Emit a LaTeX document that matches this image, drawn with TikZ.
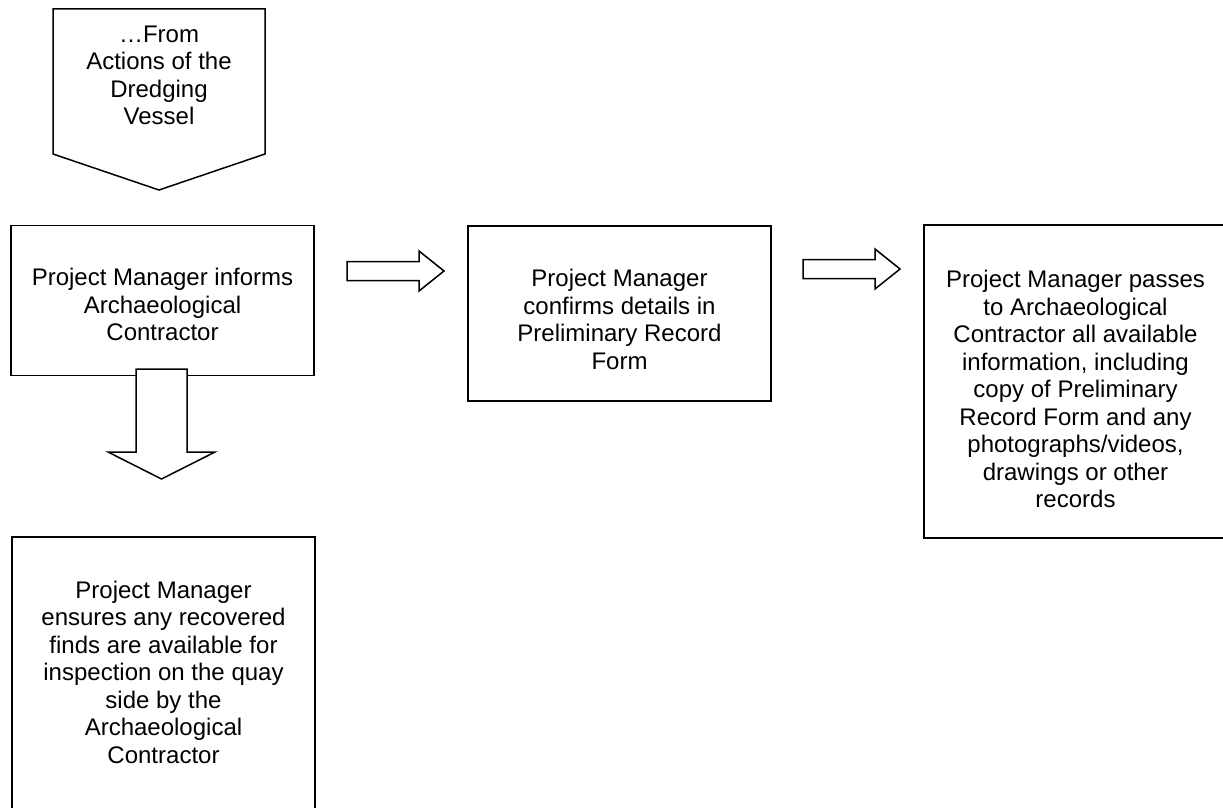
\documentclass[tikz,border=0pt]{standalone}
\usepackage{fontspec}
\setmainfont{Liberation Sans}

\begin{document}
\begin{tikzpicture}[x=1pt, y=-1pt, line width=1.5pt,
    box/.style={draw, minimum width=303pt, inner sep=0pt},
    txt/.style={align=center, inner sep=0pt, font=\fontsize{24}{27.5}\selectfont},
    blockarrow/.style={draw, fill=white},]
    \useasboundingbox (0,0) rectangle (1223,808);
    % off-page connector
    \draw (53,9) -- (265,9) -- (265,154) -- (159,190) -- (53,154) -- cycle;
    \node[txt] (from) at (159,75.5) {…From\\Actions of the\\Dredging\\Vessel};
    \node[box, minimum height=150pt] (inform) at (162.5,300.5) {};
    \node[txt] (informtxt) at ([yshift=-4.2pt]inform.center) {Project Manager informs\\Archaeological\\Contractor};
    \node[box, minimum height=175pt] (confirm) at (619.5,313.5) {};
    \node[txt] (confirmtxt) at ([yshift=-6pt]confirm.center) {Project Manager\\confirms details in\\Preliminary Record\\Form};
    \node[box, minimum height=313pt] (passes) at (1075.5,381.5) {};
    \node[txt] (passestxt) at ([yshift=-7.5pt]passes.center) {Project Manager passes\\to Archaeological\\Contractor all available\\information, including\\copy of Preliminary\\Record Form and any\\photographs/videos,\\drawings or other\\records};
    \node[box, minimum height=275pt] (ensures) at (163.5,674.5) {};
    \node[txt] (ensurestxt) at ([yshift=2.5pt]ensures.center) {Project Manager\\ensures any recovered\\finds are available for\\inspection on the quay\\side by the\\Archaeological\\Contractor};
    % block arrows
    \draw[blockarrow] (136,369) -- (187,369) -- (187,452) -- (215,452) -- (161.5,479)
        -- (108,452) -- (136,452) -- cycle;
    \foreach \x/\y in {347/271, 803/269}
        \draw[blockarrow] (\x,\y) ++(0,-9.5) -- ++(72,0) -- ++(0,-10.5) -- ++(25,20)
            -- ++(-25,20) -- ++(0,-10.5) -- ++(-72,0) -- cycle;
\end{tikzpicture}
\end{document}
